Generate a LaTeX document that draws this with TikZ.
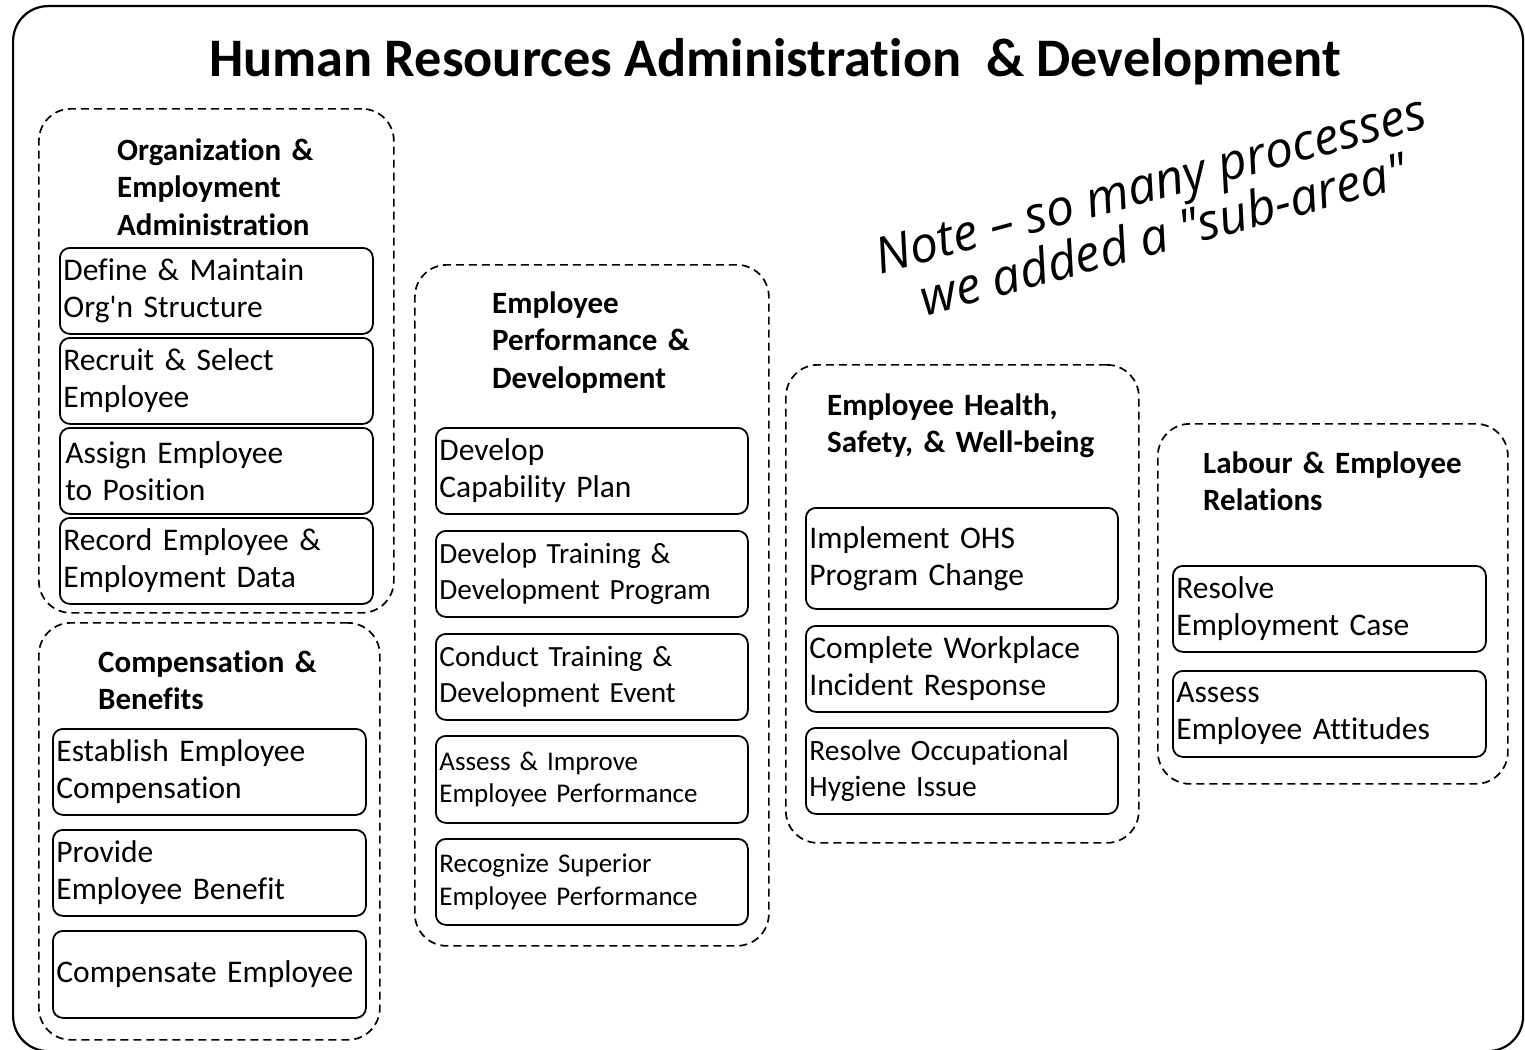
\documentclass[tikz,border=0pt]{standalone}
\usepackage{fontspec}
\setmainfont{Carlito}[Ligatures={TeX,NoCommon}]
\newfontfamily\notefont{Open Sans}
\begin{document}
\begin{tikzpicture}[x=1pt,y=-1pt,
  outerbox/.style={draw, line width=2.2pt, rounded corners=35pt, inner sep=0pt, anchor=north west},
  grp/.style={draw, dash pattern=on 8pt off 5pt, line width=1.7pt, rounded corners=32pt, inner sep=0pt, anchor=north west},
  proc/.style={draw, line width=1.8pt, rounded corners=10pt, anchor=north west, inner xsep=3.5pt, inner ysep=0pt, align=left},
  fa/.style={font=\fontsize{31.5}{37}\selectfont},
  fb/.style={font=\fontsize{29.3}{36}\selectfont},
  fc/.style={font=\fontsize{27}{32.5}\selectfont},
  fd/.style={font=\fontsize{29.5}{36}\selectfont},
  head/.style={anchor=base west, inner sep=0pt, align=left, text width=300pt, font=\bfseries\fontsize{31}{37.5}\selectfont},
  titlestyle/.style={anchor=base, inner sep=0pt, font=\bfseries\fontsize{54.3}{60}\selectfont},
  notestyle/.style={inner sep=0pt, align=center, font=\notefont\itshape\fontsize{50}{52}\selectfont}
]
\useasboundingbox (0,0) rectangle (1525,1049);
\node[outerbox, minimum width=1510pt, minimum height=1045pt] (outer) at (12,5) {};
\node[titlestyle] (title) at (775,77) {Human Resources Administration\ \ \& Development};
\node[notestyle, rotate=15] (note) at (1157,209) {Note \textendash{} so many processes\\we added a \textquotedbl sub-area\textquotedbl};

% group: Organization & Employment Administration
\node[grp, minimum width=355pt, minimum height=504pt] (g1) at (38,108) {};
\node[head] (h1) at (117,160) {Organization \&\\Employment\\Administration};
\node[proc, fa, text width=306pt, minimum height=86pt] (p11) at (59,247) {Define \& Maintain\\Org\textquotesingle n Structure};
\node[proc, fa, text width=306pt, minimum height=86pt] (p12) at (59,337) {Recruit \& Select\\Employee};
\node[proc, fa, text width=306pt, minimum height=86pt] (p13) at (59,427) {\hspace{2pt}Assign Employee\\\hspace{2pt}to Position};
\node[proc, fa, text width=306pt, minimum height=86pt] (p14) at (59,517) {Record Employee \&\\Employment Data};

% group: Compensation & Benefits
\node[grp, minimum width=341pt, minimum height=417pt] (g5) at (38,622) {};
\node[head] (h5) at (98,672) {Compensation \&\\Benefits};
\node[proc, fa, text width=306pt, minimum height=86pt] (p51) at (52,728) {Establish Employee\\Compensation};
\node[proc, fa, text width=306pt, minimum height=86pt] (p52) at (52,829) {Provide\\Employee Benefit};
\node[proc, fa, text width=306pt, minimum height=87pt] (p53) at (52,930) {Compensate Employee};

% group: Employee Performance & Development
\node[grp, minimum width=354pt, minimum height=681pt] (g2) at (414,264) {};
\node[head] (h2) at (492,313) {Employee\\Performance \&\\Development};
\node[proc, fa, text width=305pt, minimum height=86pt] (p21) at (435,427) {Develop\\Capability Plan};
\node[proc, fb, text width=305pt, minimum height=86pt] (p22) at (435,530) {Develop Training \&\\Development Program};
\node[proc, fb, text width=305pt, minimum height=86pt] (p23) at (435,633) {Conduct Training \&\\Development Event};
\node[proc, fc, text width=305pt, minimum height=87pt] (p24) at (435,735) {Assess \& Improve\\Employee Performance};
\node[proc, fc, text width=305pt, minimum height=86pt] (p25) at (435,838) {Recognize Superior\\Employee Performance};

% group: Employee Health, Safety, & Well-being
\node[grp, minimum width=353pt, minimum height=478pt] (g3) at (785,364) {};
\node[head] (h3) at (827,415) {Employee Health,\\Safety, \& Well-being};
\node[proc, fa, text width=305pt, minimum height=101pt] (p31) at (805,507) {Implement OHS\\Program Change};
\node[proc, fa, text width=305pt, minimum height=86pt] (p32) at (805,625) {Complete Workplace\\Incident Response};
\node[proc, fd, text width=305pt, minimum height=86pt] (p33) at (805,727) {Resolve Occupational\\Hygiene Issue};

% group: Labour & Employee Relations
\node[grp, minimum width=350pt, minimum height=360pt] (g4) at (1157,423) {};
\node[head] (h4) at (1203,473) {Labour \& Employee\\Relations};
\node[proc, fa, text width=306pt, minimum height=86pt] (p41) at (1172,565) {Resolve\\Employment Case};
\node[proc, fa, text width=306pt, minimum height=86pt] (p42) at (1172,670) {Assess\\Employee Attitudes};
\end{tikzpicture}
\end{document}
